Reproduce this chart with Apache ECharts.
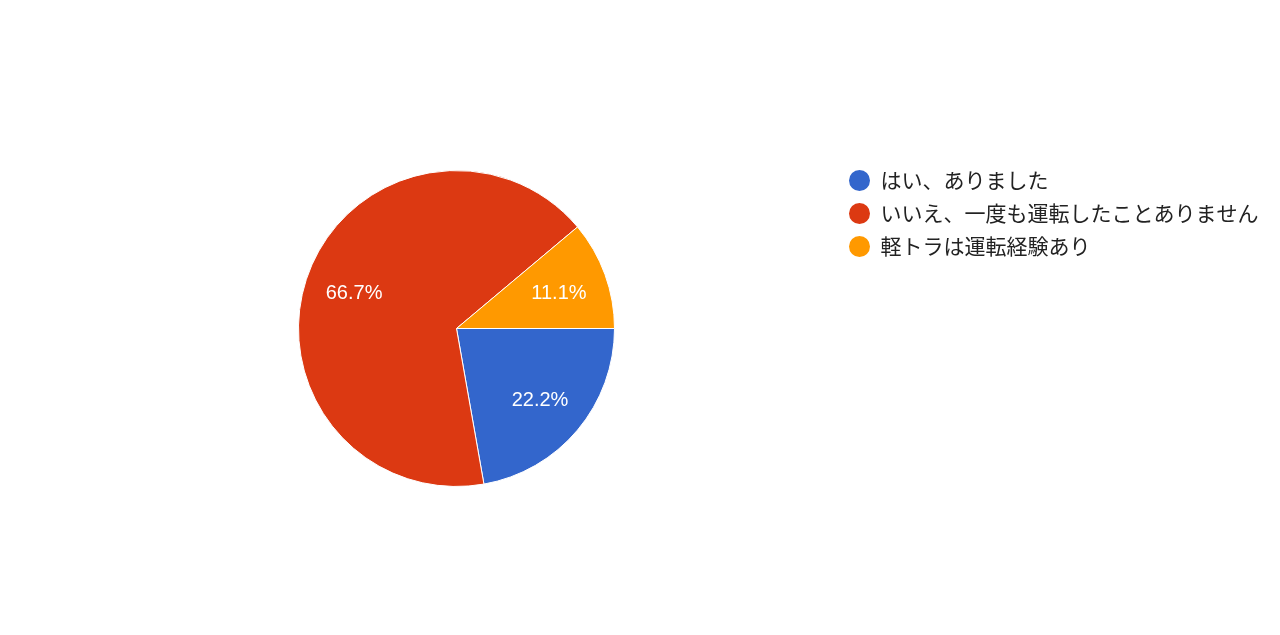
<!DOCTYPE html>
<html>
<head>
<meta charset="utf-8">
<script src="https://cdn.jsdelivr.net/npm/echarts@6/dist/echarts.min.js"></script>
<style>
html,body{margin:0;padding:0;background:#fff;}
#c{width:1280px;height:635px;}
</style>
</head>
<body>
<div id="c"></div>
<script>
const categories = ['はい、ありました', 'いいえ、一度も運転したことありません', '軽トラは運転経験あり'];
const values = [2, 6, 1];
const colors = ['#3366cc', '#dc3912', '#ff9900'];

const data = categories.map((n, i) => ({ name: n, value: values[i], itemStyle: { color: colors[i] } }));
const chart = echarts.init(document.getElementById('c'));
chart.setOption({
  backgroundColor: '#fff',
  animation: false,
  legend: {
    orient: 'vertical',
    left: 842,
    top: 163,
    icon: 'circle',
    itemWidth: 24,
    itemHeight: 23,
    itemGap: 8,
    textStyle: { fontSize: 21, lineHeight: 25, color: '#222', fontFamily: '"Noto Sans CJK JP", sans-serif', padding: [0, 0, 0, 4] },
    data: categories
  },
  series: [
    {
      type: 'pie',
      center: [456.5, 328.5],
      radius: [0, 158],
      startAngle: 0,
      clockwise: true,
      itemStyle: { borderColor: '#fff', borderWidth: 1 },
      label: { show: false },
      labelLine: { show: false },
      emphasis: { disabled: true },
      data: data
    },
    {
      type: 'pie',
      center: [456.5, 330.5],
      radius: [54, 158],
      startAngle: 0,
      clockwise: true,
      silent: true,
      legendHoverLink: false,
      itemStyle: { color: 'rgba(0,0,0,0)' },
      label: {
        show: true,
        position: 'inside',
        color: '#fff',
        fontSize: 20,
        fontFamily: '"Liberation Sans", Arial, sans-serif',
        formatter: p => p.percent.toFixed(1) + '%'
      },
      labelLine: { show: false },
      emphasis: { disabled: true },
      data: categories.map((n, i) => ({ name: n + ' ', value: values[i] }))
    }
  ]
});
</script>
</body>
</html>
